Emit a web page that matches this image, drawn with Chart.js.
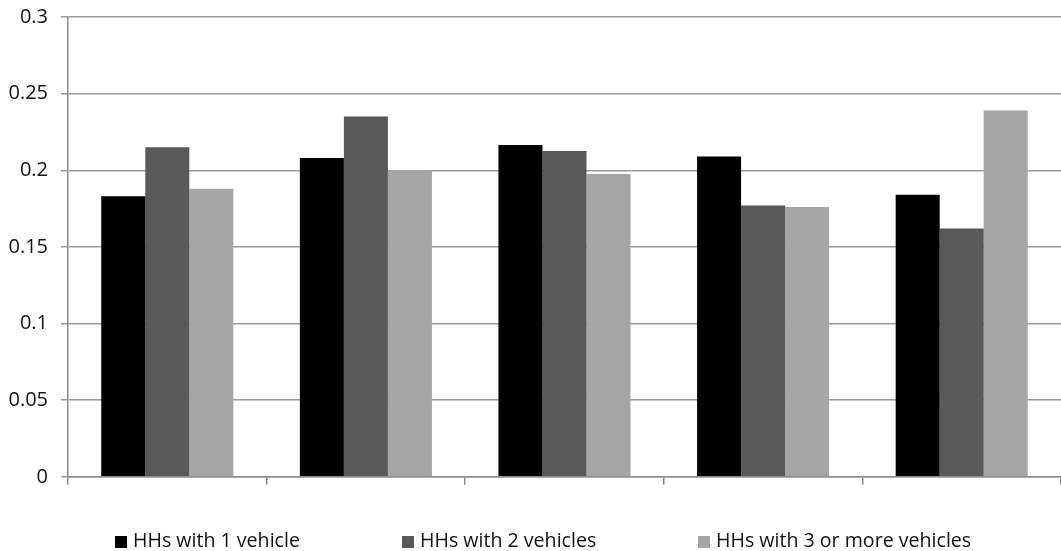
<!DOCTYPE html>
<html>
<head>
<meta charset="utf-8">
<script src="https://cdn.jsdelivr.net/npm/chart.js@4"></script>
<style>
  html, body { margin: 0; padding: 0; background: #fff; }
  #wrap { position: relative; width: 1061px; height: 551px; }
  #legend { position: absolute; left: 0; top: 527px; width: 1061px; height: 26px;
            font-family: 'Open Sans', sans-serif; font-size: 19.6px; color: #111; }
  .item { position: absolute; top: 0; white-space: nowrap; line-height: 26px; }
  .box { display: inline-block; width: 12px; height: 12px; margin-right: 6px; vertical-align: -1px; }
</style>
</head>
<body>
<div id="wrap">
  <canvas id="myChart"></canvas>
  <div id="legend"></div>
</div>
<script>
// five groups, no category labels on the axis
const categories = ['', '', '', '', ''];
const oneVehicle = [0.183, 0.208, 0.2165, 0.209, 0.184];
const twoVehicles = [0.215, 0.235, 0.2125, 0.177, 0.162];
const threePlus = [0.188, 0.200, 0.1975, 0.176, 0.239];
const seriesNames = ['HHs with 1 vehicle', 'HHs with 2 vehicles', 'HHs with 3 or more vehicles'];
const yTicks = [0, 0.05, 0.1, 0.15, 0.2, 0.25, 0.3];
const colors = ['#000000', '#595959', '#a6a6a6'];
const legendLeft = [115, 402, 698];

const ctx = document.getElementById('myChart');
const chart = new Chart(ctx, {
    type: 'bar',
    data: {
        labels: categories,
        datasets: [
            { label: seriesNames[0], data: oneVehicle, backgroundColor: colors[0] },
            { label: seriesNames[1], data: twoVehicles, backgroundColor: colors[1] },
            { label: seriesNames[2], data: threePlus, backgroundColor: colors[2] }
        ]
    },
    options: {
        responsive: true,
        maintainAspectRatio: false,
        animation: false,
        datasets: {
            bar: { categoryPercentage: 0.665, barPercentage: 1.0 }
        },
        layout: { padding: { top: 17, right: 0, left: 8, bottom: 59 } },
        plugins: {
            tooltip: { enabled: false },
            legend: { display: false }
        },
        scales: {
            x: {
                grid: {
                    display: true,
                    drawOnChartArea: false,
                    drawTicks: true,
                    tickLength: 8,
                    color: '#8c8c8c',
                    lineWidth: 1.5
                },
                border: { display: true, color: '#8c8c8c', width: 1.5 },
                ticks: { display: true, font: { size: 1 } }
            },
            y: {
                min: 0,
                max: 0.3,
                afterBuildTicks: axis => {
                    axis.ticks = yTicks.map(v => ({ value: v }));
                },
                afterFit: axis => {
                    axis.width = 60;
                    axis.paddingTop = 0;
                    axis.paddingBottom = 0;
                },
                grid: {
                    color: '#9a9a9a',
                    lineWidth: 1.5,
                    tickLength: 7
                },
                border: { display: true, color: '#8c8c8c', width: 1.5 },
                ticks: {
                    color: '#111',
                    padding: 13,
                    font: { family: "'Open Sans'", size: 20 },
                    callback: v => String(v)
                }
            }
        }
    }
});

// html legend built from the datasets
let str = '';
chart.data.datasets.forEach((ds, i) => {
    str += `<span class="item" style="left:${legendLeft[i]}px"><span class="box" style="background:${ds.backgroundColor}"></span>${ds.label}</span>`;
});
document.getElementById('legend').innerHTML = str;
</script>
</body>
</html>
